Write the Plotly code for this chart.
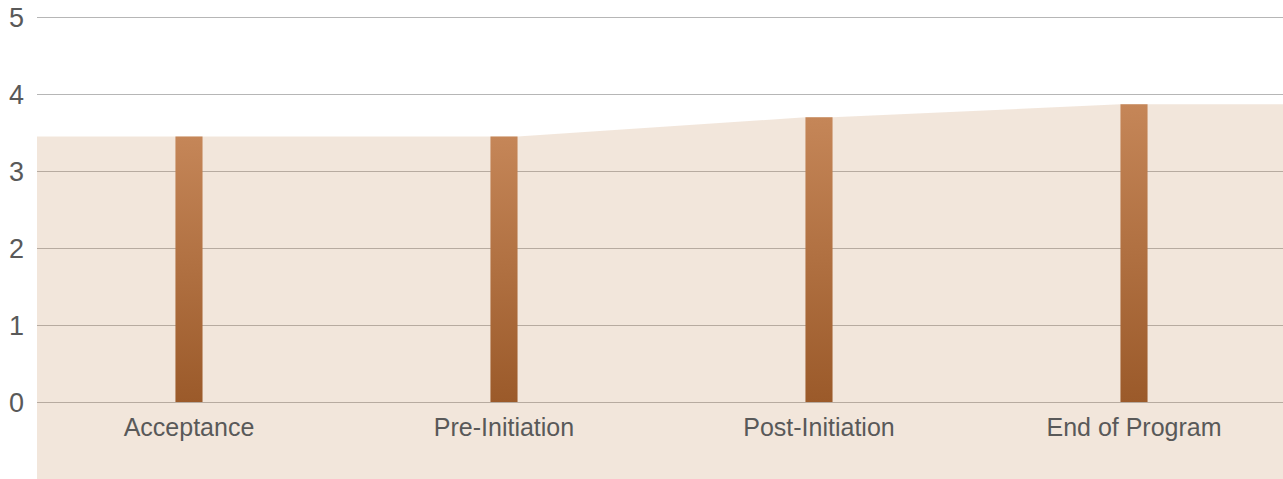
import plotly.graph_objects as go

categories = ["Acceptance", "Pre-Initiation", "Post-Initiation", "End of Program"]
values = [3.45, 3.45, 3.70, 3.87]
y_ticks = [0, 1, 2, 3, 4, 5]

x_pos = list(range(len(categories)))
x_range = [-0.4825, len(categories) - 1 + 0.473]
y_range = [-1, 5.03]
half_w = 0.043

fig = go.Figure()

# background area following bar tops
ax = [x_range[0]]
ay = [values[0]]
for xi, v in zip(x_pos, values):
    ax += [xi - half_w, xi + half_w]
    ay += [v, v]
ax += [x_range[1], x_range[1], x_range[0]]
ay += [values[-1], y_range[0], y_range[0]]
fig.add_trace(go.Scatter(
    x=ax, y=ay, mode="lines", fill="toself",
    fillcolor="rgba(191,128,77,0.2)", line=dict(width=0),
    hoverinfo="skip", showlegend=False,
))

# gradient bars
for xi, v, name in zip(x_pos, values, categories):
    fig.add_trace(go.Scatter(
        x=[xi - half_w, xi + half_w, xi + half_w, xi - half_w, xi - half_w],
        y=[0, 0, v, v, 0],
        mode="lines", fill="toself", line=dict(width=0),
        fillgradient=dict(type="vertical",
                          colorscale=[[0, "#9b5a2a"], [1, "#c58658"]]),
        name=name, showlegend=False,
    ))

fig.update_layout(
    width=1283, height=479,
    margin=dict(l=37, r=0, t=15, b=0),
    paper_bgcolor="white", plot_bgcolor="white",
    font=dict(family="Liberation Sans, Arial, sans-serif", color="#595959"),
    xaxis=dict(
        range=x_range, tickvals=x_pos, ticktext=categories,
        showgrid=False, zeroline=False, showline=False, ticks="",
        anchor="free", position=1/6.03,
        tickfont=dict(size=25), ticklabelstandoff=8,
    ),
    yaxis=dict(
        range=y_range, tickvals=y_ticks,
        showgrid=True, gridcolor="#b6b6b6", gridwidth=1,
        zeroline=False, showline=False, ticks="",
        tickfont=dict(size=27), ticklabelstandoff=12,
    ),
)

fig.write_html("out.html")
